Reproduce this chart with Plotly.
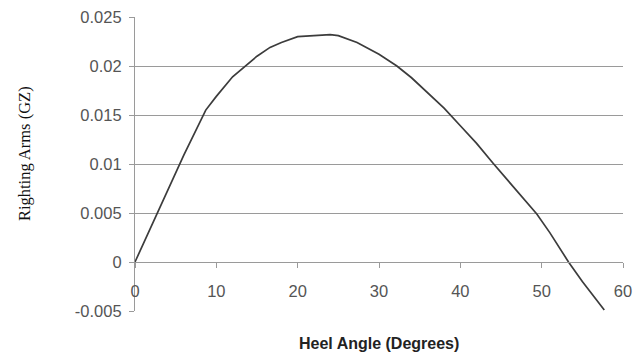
import plotly.graph_objects as go

heel_angle = [0, 3, 6, 8.7, 10, 12, 13.5, 15, 16.6, 18, 20, 22, 24, 25, 27.3, 30, 32.2, 34, 36,
              38, 40, 42, 44, 46, 48, 49.4, 51, 53.3, 55, 57.7]
gz = [0, 0.0054, 0.0109, 0.0155, 0.0169, 0.0189, 0.0200, 0.0210, 0.0219, 0.0224, 0.0230, 0.0231,
      0.0232, 0.0231, 0.0224, 0.0212, 0.0200, 0.0188, 0.0173, 0.0157, 0.0139, 0.0121, 0.0101,
      0.0082, 0.0062, 0.0049, 0.0030, 0.0, -0.0020, -0.0049]

y_ticks = [-0.005, 0, 0.005, 0.01, 0.015, 0.02, 0.025]
y_tick_labels = ["-0.005", "0", "0.005", "0.01", "0.015", "0.02", "0.025"]
grid_vals = [0, 0.005, 0.01, 0.015, 0.02]
x_ticks = [0, 10, 20, 30, 40, 50, 60]
x_tick_labels = ["0", "10", "20", "30", "40", "50", "60"]

x_title = "Heel Angle (Degrees)"
y_title = "Righting Arms (GZ)"

axis_gray = "#9a9a9a"
label_gray = "#555555"
tick_font = dict(family="Liberation Sans, Arial, sans-serif", size=16.5, color=label_gray)

fig = go.Figure()
fig.add_trace(go.Scatter(x=heel_angle, y=gz, mode="lines",
                         line=dict(color="#3c3c3c", width=1.7), showlegend=False,
                         hoverinfo="skip"))
# invisible trace on the grid axis
fig.add_trace(go.Scatter(x=[heel_angle[0]], y=[gz[0]], yaxis="y2", mode="markers",
                         marker=dict(opacity=0), showlegend=False, hoverinfo="skip"))

ymin, ymax = y_ticks[0], y_ticks[-1]
zero_pos = (0 - ymin) / (ymax - ymin)

fig.update_layout(
    width=633, height=356,
    margin=dict(l=135, r=10, t=17, b=45, autoexpand=False),
    paper_bgcolor="white", plot_bgcolor="white",
    xaxis=dict(range=[x_ticks[0], x_ticks[-1]], tickvals=x_ticks, ticktext=x_tick_labels,
               anchor="free", position=zero_pos, showline=True, linecolor=axis_gray,
               linewidth=1.2, ticks="outside", ticklen=5, tickcolor=axis_gray,
               showgrid=False, zeroline=False, tickfont=tick_font, automargin=False,
               ticklabelstandoff=9, ticklabeloverflow="allow"),
    yaxis=dict(range=[ymin, ymax], tickvals=y_ticks, ticktext=y_tick_labels,
               showline=True, linecolor=axis_gray, linewidth=1.2, ticks="outside",
               ticklen=5, tickcolor=axis_gray, showgrid=False, zeroline=False,
               tickfont=tick_font, ticklabelstandoff=4, automargin=False,
               ticklabeloverflow="allow"),
    yaxis2=dict(range=[ymin, ymax], overlaying="y", tickvals=grid_vals,
                showticklabels=False, showgrid=True, gridcolor=axis_gray, gridwidth=1.2,
                zeroline=False, showline=False, ticks="", automargin=False),
    annotations=[
        dict(text="<b>" + x_title + "</b>", xref="paper", yref="paper", x=0.5, y=-0.109,
             xanchor="center", yanchor="middle", showarrow=False,
             font=dict(family="Liberation Sans, Arial, sans-serif", size=16, color="#222222")),
        dict(text=y_title, xref="paper", yref="paper", x=-0.2275, y=0.537,
             xanchor="center", yanchor="middle", textangle=-90, showarrow=False,
             font=dict(family="Liberation Serif, Times New Roman, serif", size=16.5,
                       color="#111111")),
    ],
)

fig.write_html("out.html", config={"displayModeBar": False},
               post_script="document.body.style.margin='0';document.body.style.overflow='hidden';")
